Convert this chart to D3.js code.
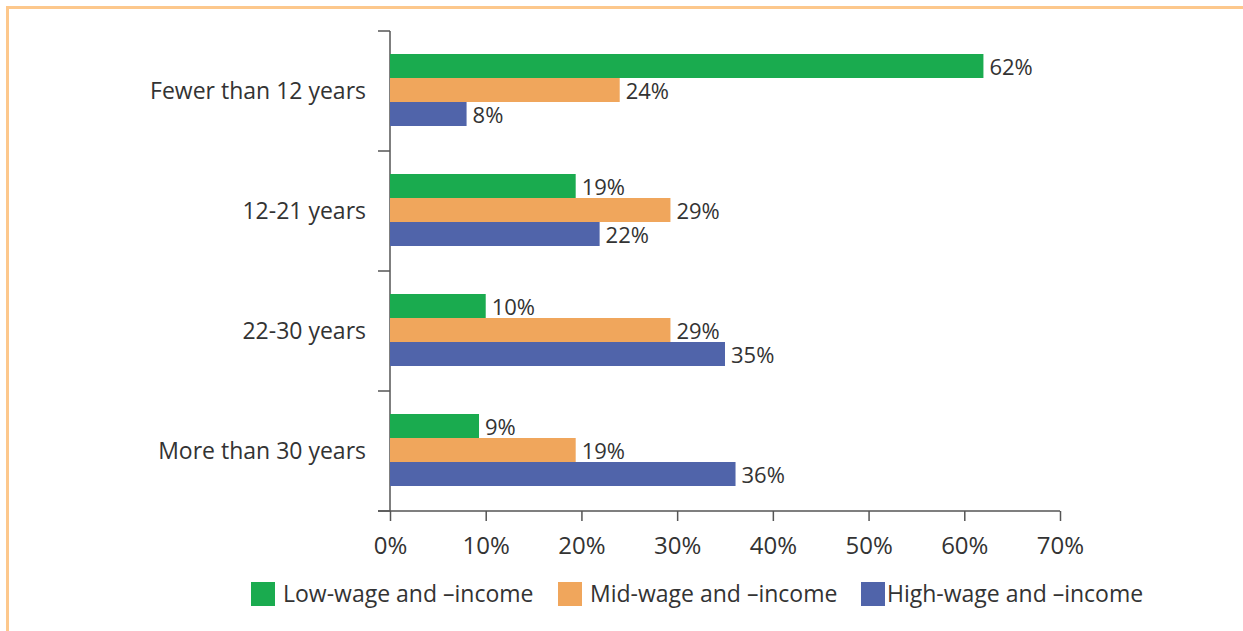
<!DOCTYPE html>
<html>
<head>
<meta charset="utf-8">
<script src="https://cdn.jsdelivr.net/npm/d3@7"></script>
<style>
  body { margin: 0; background: #fff; }
  text { font-family: "Open Sans", Lato, sans-serif; fill: #333; }
</style>
</head>
<body>
<div id="chart"></div>
<script>
var categories = ["Fewer than 12 years", "12-21 years", "22-30 years", "More than 30 years"];
var seriesNames = ["Low-wage and \u2013income", "Mid-wage and \u2013income", "High-wage and \u2013income"];
var lowWage = [62, 19.4, 10, 9.3];
var midWage = [24, 29.3, 29.3, 19.4];
var highWage = [8, 21.9, 35, 36.1];
var xTicks = [0, 10, 20, 30, 40, 50, 60, 70];
var colors = ["#1aab4f", "#f0a65c", "#5064aa"];

var W = 1243, H = 631;
var margin = { top: 31, left: 390, right: 183, bottom: 120 };
var width = W - margin.left - margin.right,
  height = H - margin.top - margin.bottom;

var svg = d3.select("#chart").append("svg").attr("width", W).attr("height", H);

// orange frame (top and left only)
svg.append("line").attr("x1", 6).attr("x2", W).attr("y1", 7.5).attr("y2", 7.5)
  .attr("stroke", "#fdc88c").attr("stroke-width", 3);
svg.append("line").attr("x1", 7.5).attr("x2", 7.5).attr("y1", 6).attr("y2", H)
  .attr("stroke", "#fdc88c").attr("stroke-width", 3);

var g = svg.append("g").attr("transform", "translate(" + margin.left + "," + margin.top + ")");

var x = d3.scaleLinear().domain([0, 70]).range([0, width]);
var y = d3.scaleBand().domain(categories).range([0, height]);
var inner = d3.scaleBand().domain([0, 1, 2]).range([23, 95]);

var series = [lowWage, midWage, highWage];

// y axis with ticks between categories
var yAxis = g.append("g");
yAxis.append("line").attr("x1", 0).attr("x2", 0).attr("y1", 0).attr("y2", height)
  .attr("stroke", "#555").attr("stroke-width", 1.5);
yAxis.selectAll("line.tk").data(d3.range(categories.length + 1)).enter().append("line")
  .attr("class", "tk")
  .attr("x1", -12).attr("x2", 0)
  .attr("y1", function (d) { return d * y.step(); })
  .attr("y2", function (d) { return d * y.step(); })
  .attr("stroke", "#555").attr("stroke-width", 1.5);
yAxis.selectAll("text").data(categories).enter().append("text")
  .attr("x", -24)
  .attr("y", function (d) { return y(d) + y.bandwidth() / 2; })
  .attr("dy", "0.35em")
  .attr("text-anchor", "end")
  .style("font-size", "23px")
  .text(function (d) { return d; });

// bars
series.forEach(function (vals, si) {
  g.selectAll("rect.s" + si).data(vals).enter().append("rect")
    .attr("class", "s" + si)
    .attr("x", x(0))
    .attr("y", function (d, i) { return y(categories[i]) + inner(si); })
    .attr("width", function (d) { return x(d) - x(0); })
    .attr("height", inner.bandwidth())
    .attr("fill", colors[si]);
  g.selectAll("text.l" + si).data(vals).enter().append("text")
    .attr("class", "l" + si)
    .attr("x", function (d) { return x(d) + 6; })
    .attr("y", function (d, i) { return y(categories[i]) + inner(si) + inner.bandwidth() / 2; })
    .attr("dy", "0.4em")
    .style("font-size", "22px")
    .text(function (d) { return Math.round(d) + "%"; });
});

// x axis
var xAxis = g.append("g").attr("transform", "translate(0," + height + ")")
  .call(d3.axisBottom(x).tickValues(xTicks).tickSize(10).tickPadding(16)
    .tickFormat(function (d) { return d + "%"; }));
xAxis.select(".domain").attr("stroke", "#555").attr("stroke-width", 1.5)
  .attr("d", "M-12,0H" + width);
xAxis.selectAll(".tick line").attr("stroke", "#555").attr("stroke-width", 1.5);
xAxis.selectAll(".tick text").style("font-size", "24px")
  .style("font-family", "'Open Sans', Lato, sans-serif").attr("fill", "#333");

// legend
var legendX = [251, 558, 861];
var legendTextX = [283, 590, 887];
var legend = svg.append("g");
seriesNames.forEach(function (name, i) {
  legend.append("rect").attr("x", legendX[i]).attr("y", 582).attr("width", 24).attr("height", 24)
    .attr("fill", colors[i]);
  legend.append("text").attr("x", legendTextX[i]).attr("y", 594).attr("dy", "0.35em")
    .style("font-size", "23px").text(name);
});
</script>
</body>
</html>
